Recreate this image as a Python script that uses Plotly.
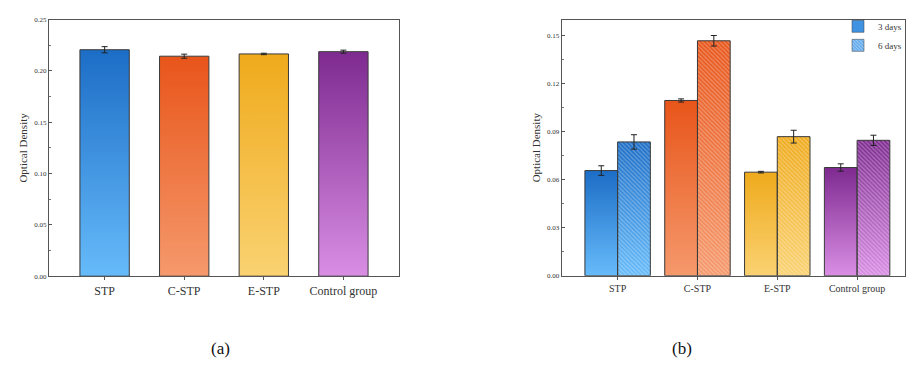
import plotly.graph_objects as go

# ---------------- data ----------------
categories = ["STP", "C-STP", "E-STP", "Control group"]
od_a = [0.2207, 0.2144, 0.2166, 0.2188]
err_a = [0.0030, 0.0020, 0.0007, 0.0015]

od_3d = [0.0657, 0.1095, 0.0647, 0.0676]
err_3d = [0.0030, 0.0010, 0.0005, 0.0023]
od_6d = [0.0836, 0.1468, 0.0869, 0.0846]
err_6d = [0.0045, 0.0033, 0.0040, 0.0032]

series_names = ["3 days", "6 days"]
top_colors = ["#1C6DC6", "#E8551A", "#EFAA1C", "#7E2A90"]
bottom_colors = ["#66BBFA", "#F5996C", "#FAD272", "#D98EE4"]

yticks_a = [0.00, 0.05, 0.10, 0.15, 0.20, 0.25]
yticks_b = [0.00, 0.03, 0.06, 0.09, 0.12, 0.15]

W_A = 0.62
W_B = 0.41
SERIF = "Liberation Serif"
EDGE = "#3a3a3a"

fig = go.Figure()


def gradient_bar(x0, x1, v, ci, xa, ya):
    fig.add_trace(go.Scatter(
        x=[x0, x0, x1, x1, x0], y=[0, v, v, 0, 0],
        mode="lines", fill="toself",
        line=dict(width=0, color="rgba(0,0,0,0)"),
        fillgradient=dict(type="vertical",
                          colorscale=[[0, bottom_colors[ci]], [1, top_colors[ci]]]),
        xaxis=xa, yaxis=ya, showlegend=False, hoverinfo="skip"))


# ---- panel (a): gradient fills on base axes ----
for i, v in enumerate(od_a):
    gradient_bar(i - W_A / 2, i + W_A / 2, v, i, "x", "y")

# ---- panel (b): gradient fills on base axes ----
for i, v in enumerate(od_3d):
    gradient_bar(i - W_B, i, v, i, "x2", "y2")
for i, v in enumerate(od_6d):
    gradient_bar(i, i + W_B, v, i, "x2", "y2")

err_style = dict(type="data", thickness=1, width=3, color="#222222")
hatch = dict(shape="\\", fgcolor="white", bgcolor="rgba(0,0,0,0)",
             fgopacity=0.3, size=3, solidity=0.4)

# ---- bar outlines / error bars on overlay axes ----
fig.add_trace(go.Bar(
    x=list(range(len(categories))), y=od_a, width=W_A,
    marker=dict(color="rgba(0,0,0,0)", line=dict(color=EDGE, width=1)),
    error_y=dict(array=err_a, **err_style),
    xaxis="x3", yaxis="y3", showlegend=False))

fig.add_trace(go.Bar(
    x=list(range(len(categories))), y=od_3d, width=W_B, offset=-W_B,
    marker=dict(color="rgba(0,0,0,0)", line=dict(color=EDGE, width=1)),
    error_y=dict(array=err_3d, **err_style),
    xaxis="x4", yaxis="y4", showlegend=False))

fig.add_trace(go.Bar(
    x=list(range(len(categories))), y=od_6d, width=W_B, offset=0,
    marker=dict(color="rgba(0,0,0,0)", line=dict(color=EDGE, width=1), pattern=hatch),
    error_y=dict(array=err_6d, **err_style),
    xaxis="x4", yaxis="y4", showlegend=False))

# ---- legend entries ----
fig.add_trace(go.Bar(x=[None], y=[None], name=series_names[0],
                     marker=dict(color="#3F93E2", line=dict(color=EDGE, width=0.5)),
                     xaxis="x4", yaxis="y4"))
fig.add_trace(go.Bar(x=[None], y=[None], name=series_names[1],
                     marker=dict(color="#5AA6EC", line=dict(color=EDGE, width=0.5),
                                 pattern=dict(shape="\\", fgcolor="white", fgopacity=0.5,
                                              size=3, solidity=0.4)),
                     xaxis="x4", yaxis="y4"))

tickfont = dict(family=SERIF, size=7, color="#333333")
axis_line = dict(showline=True, linecolor="#555555", linewidth=1, mirror=True,
                 showgrid=False, zeroline=False)

dom_a_x = [49 / 907, 400 / 907]
dom_b_x = [563 / 907, 1.0]
dom_y = [1 - 278 / 383, 1 - 16 / 383]
dom_yb = [1 - 277.5 / 383, 1 - 16 / 383]

fig.update_layout(
    width=907, height=383,
    margin=dict(l=0, r=0, t=0, b=0),
    paper_bgcolor="white", plot_bgcolor="white",
    barmode="overlay",
    font=dict(family=SERIF, color="#333333"),
    xaxis=dict(domain=dom_a_x, range=[-0.7, 3.7], anchor="y",
               tickvals=list(range(len(categories))), ticktext=categories,
               ticks="outside", ticklen=3, tickcolor="#555555",
               tickfont=dict(family=SERIF, size=12, color="#333333"), **axis_line),
    yaxis=dict(domain=dom_y, range=[0, 0.25], anchor="x",
               tickvals=yticks_a, tickformat=".2f", ticks="inside", ticklen=3,
               tickcolor="#555555", tickfont=tickfont,
               minor=dict(ticks="inside", ticklen=2, tickcolor="#777777", dtick=0.025),
               title=dict(text="Optical Density", font=dict(family=SERIF, size=11),
                          standoff=4), **axis_line),
    xaxis3=dict(overlaying="x", range=[-0.7, 3.7], anchor="y3", visible=False),
    yaxis3=dict(overlaying="y", range=[0, 0.25], anchor="x3", visible=False),
    xaxis2=dict(domain=dom_b_x, range=[-0.7, 3.6], anchor="y2",
                tickvals=list(range(len(categories))), ticktext=categories,
                ticks="outside", ticklen=3, tickcolor="#555555",
                tickfont=dict(family=SERIF, size=10, color="#333333"), **axis_line),
    yaxis2=dict(domain=dom_yb, range=[0, 0.16], anchor="x2",
                tickvals=yticks_b, tickformat=".2f", ticks="inside", ticklen=3,
                tickcolor="#555555", tickfont=tickfont,
                minor=dict(ticks="inside", ticklen=2, tickcolor="#777777", dtick=0.015),
                title=dict(text="Optical Density", font=dict(family=SERIF, size=11),
                           standoff=4), **axis_line),
    xaxis4=dict(overlaying="x2", range=[-0.7, 3.6], anchor="y4", visible=False),
    yaxis4=dict(overlaying="y2", range=[0, 0.16], anchor="x4", visible=False),
    legend=dict(x=840 / 907, y=1 - 8 / 383, xanchor="left", yanchor="top",
                bgcolor="rgba(0,0,0,0)", font=dict(family=SERIF, size=9, color="#333333"),
                itemwidth=30, tracegroupgap=0),
    annotations=[
        dict(text="(a)", x=221 / 907, y=1 - 352 / 383, xref="paper", yref="paper",
             xanchor="center", yanchor="middle",
             showarrow=False, font=dict(family=SERIF, size=17, color="#111111")),
        dict(text="(b)", x=684 / 907, y=1 - 352 / 383, xref="paper", yref="paper",
             xanchor="center", yanchor="middle",
             showarrow=False, font=dict(family=SERIF, size=17, color="#111111")),
    ],
)

fig.write_html("out.html")
